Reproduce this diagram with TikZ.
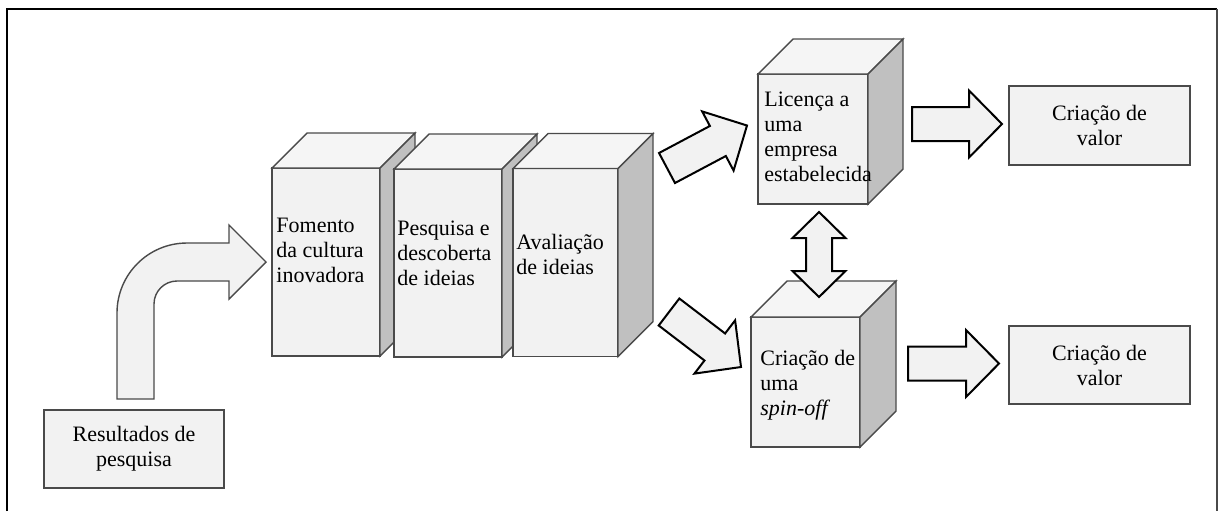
\documentclass[tikz,border=0pt]{standalone}
\usepackage{fontspec}
\setmainfont{Liberation Serif}
\usetikzlibrary{calc}

\definecolor{facefill}{HTML}{F2F2F2}
\definecolor{topfill}{HTML}{F5F5F5}
\definecolor{sidefill}{HTML}{C0C0C0}
\definecolor{boxgray}{HTML}{4A4A4A}

% block arrow from tail #1 to tip #2
\newcommand{\blockarr}[2]{%
  \draw[blockline] ($(#1)!8.5pt!90:(#2)$) -- ($(#2)!16.5pt!(#1)!8.5pt!-90:(#1)$)
    -- ($(#2)!16.5pt!(#1)!16.75pt!-90:(#1)$) -- (#2)
    -- ($(#2)!16.5pt!(#1)!16.75pt!90:(#1)$) -- ($(#2)!16.5pt!(#1)!8.5pt!90:(#1)$)
    -- ($(#1)!8.5pt!-90:(#2)$) -- cycle;}
% block arrow with two heads
\newcommand{\dblarr}[2]{%
  \draw[blockline] (#1) -- ($(#1)!13pt!(#2)!13.25pt!90:(#2)$) -- ($(#1)!13pt!(#2)!6.5pt!90:(#2)$)
    -- ($(#2)!13pt!(#1)!6.5pt!-90:(#1)$) -- ($(#2)!13pt!(#1)!13.25pt!-90:(#1)$) -- (#2)
    -- ($(#2)!13pt!(#1)!13.25pt!90:(#1)$) -- ($(#2)!13pt!(#1)!6.5pt!90:(#1)$)
    -- ($(#1)!13pt!(#2)!6.5pt!-90:(#2)$) -- ($(#1)!13pt!(#2)!13.25pt!-90:(#2)$) -- cycle;}

\begin{document}
\begin{tikzpicture}[x=0.5pt, y=-0.5pt,
    face/.style={draw=boxgray, fill=facefill, line width=0.7pt, inner sep=0pt, outer sep=0pt},
    topf/.style={draw=boxgray, fill=topfill, line width=0.7pt},
    sidef/.style={draw=boxgray, fill=sidefill, line width=0.7pt},
    txt/.style={align=left, anchor=west, inner sep=0pt, font=\fontsize{11pt}{12.5pt}\selectfont},
    flat/.style={face, align=center, font=\fontsize{11pt}{12.5pt}\selectfont},
    curvearr/.style={draw=boxgray, fill=facefill, line width=0.7pt},
    blockline/.style={draw=black, fill=facefill, line width=1pt}]
    \useasboundingbox (0,0) rectangle (1218,511);
    \draw[line width=1pt] (7,511) -- (7,9) -- (1217,9);
    \draw[boxgray, line width=0.6pt] (1217,9) -- (1217,511);

    % result box and curved arrow
    \node[flat, minimum width=90pt, minimum height=39pt] (result) at (134,449) {Resultados de\\pesquisa};
    \draw[curvearr] (117,399) -- (117,313) .. controls (117,274.3) and (148.3,243) .. (187,243)
        -- (229,243) -- (229,225) -- (266,262) -- (229,299) -- (229,281) -- (177,281)
        .. controls (164.3,281) and (154,291.3) .. (154,304) -- (154,399) -- cycle;

    % three tall boxes
    \node[face, minimum width=54pt, minimum height=94pt] (fomento) at (326,262) {};
    \draw[topf] (fomento.north west) -- ++(35,-35) -- ++(108,0) -- (fomento.north east) -- cycle;
    \draw[sidef] (fomento.north east) -- ++(35,-35) -- ++(0,188) -- (fomento.south east) -- cycle;
    \node[txt] (fomento-t) at ([xshift=2pt,yshift=6pt]fomento.west) {Fomento\\da cultura\\inovadora};

    \node[face, minimum width=54pt, minimum height=94pt] (pesquisa) at (448,263) {};
    \draw[topf] (pesquisa.north west) -- ++(35,-35) -- ++(108,0) -- (pesquisa.north east) -- cycle;
    \draw[sidef] (pesquisa.north east) -- ++(35,-35) -- ++(0,188) -- (pesquisa.south east) -- cycle;
    \node[txt] (pesquisa-t) at ([xshift=1.5pt,yshift=5pt]pesquisa.west) {Pesquisa e\\descoberta\\de ideias};

    \node[face, minimum width=52.5pt, minimum height=94pt] (avaliacao) at (565.5,262.5) {};
    \draw[topf] (avaliacao.north west) -- ++(35,-35) -- ++(105,0) -- (avaliacao.north east) -- cycle;
    \draw[sidef] (avaliacao.north east) -- ++(35,-35) -- ++(0,188) -- (avaliacao.south east) -- cycle;
    \node[txt] (avaliacao-t) at ([xshift=1.5pt,yshift=4pt]avaliacao.west) {Avaliação\\de ideias};

    % two cubes on the right
    \node[face, minimum width=55pt, minimum height=65pt] (licenca) at (813,139) {};
    \draw[topf] (licenca.north west) -- ++(35,-35) -- ++(110,0) -- (licenca.north east) -- cycle;
    \draw[sidef] (licenca.north east) -- ++(35,-35) -- ++(0,130) -- (licenca.south east) -- cycle;
    \node[txt] (licenca-t) at ([xshift=3pt,yshift=1.25pt]licenca.west) {Licença a\\uma\\empresa\\estabelecida};

    \node[face, minimum width=54.5pt, minimum height=65pt] (spinoff) at (805.5,382) {};
    \draw[topf] (spinoff.north west) -- ++(36,-36) -- ++(109,0) -- (spinoff.north east) -- cycle;
    \draw[sidef] (spinoff.north east) -- ++(36,-36) -- ++(0,130) -- (spinoff.south east) -- cycle;
    \node[txt] (spinoff-t) at ([xshift=4.5pt,yshift=-1.75pt]spinoff.west) {Criação de\\uma\\\textit{spin-off}};

    % value boxes
    \node[flat, minimum width=90.5pt, minimum height=39.5pt] (valor1) at (1099.5,125.5) {Criação de\\valor};
    \node[flat, minimum width=90.5pt, minimum height=39pt] (valor2) at (1099.5,365) {Criação de\\valor};

    % block arrows
    \coordinate (a1s) at (667,168);
    \coordinate (a1e) at (747,125.5);
    \coordinate (a2s) at (669,312);
    \coordinate (a2e) at (741,367);
    \coordinate (a3s) at (912,124);
    \coordinate (a3e) at (1002,124);
    \coordinate (a4s) at (908,363.5);
    \coordinate (a4e) at (999,363.5);
    \coordinate (dtop) at (819,212);
    \coordinate (dbot) at (819,297);
    \blockarr{a1s}{a1e}
    \blockarr{a2s}{a2e}
    \blockarr{a3s}{a3e}
    \blockarr{a4s}{a4e}
    \dblarr{dtop}{dbot}
\end{tikzpicture}
\end{document}
